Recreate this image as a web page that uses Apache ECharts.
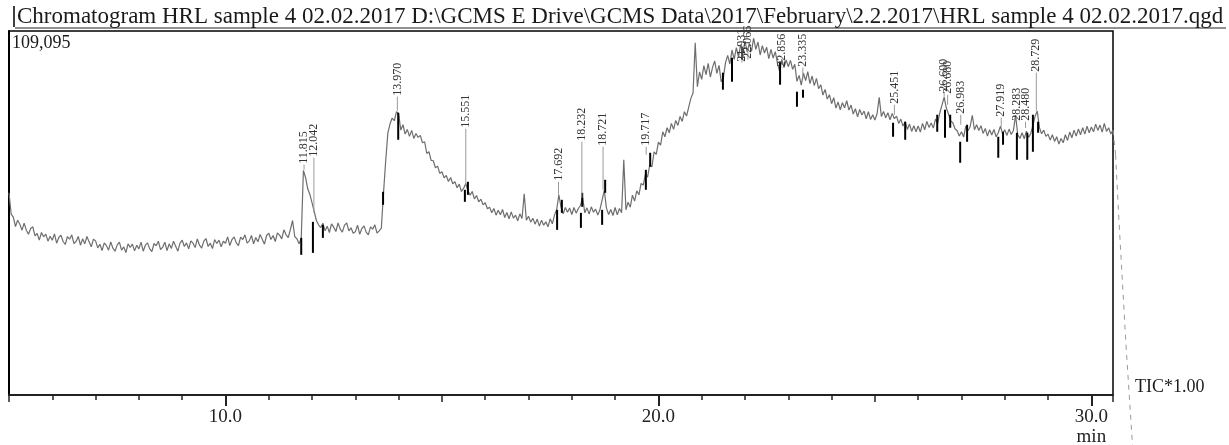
<!DOCTYPE html>
<html>
<head>
<meta charset="utf-8">
<script src="https://cdn.jsdelivr.net/npm/echarts@6/dist/echarts.min.js"></script>
<style>
  html, body { margin: 0; padding: 0; background: #fff; }
  #chart { width: 1229px; height: 445px; }
</style>
</head>
<body>
<div id="chart"></div>
<script>
// TIC trace, intensity in thousands of counts, one sample every 0.05 min from 5.0 min
const traceStart = 5.0;
const traceStep = 0.05;
const ticK = [
  // 5
  60.6, 54.2, 53.3, 50.5, 52.4, 51.2, 49.4, 51.5, 49.4, 48.2, 49.9, 50.4, 47.7, 48.4, 46.4, 48.7, 47.4, 48.2, 46.1, 47.6,
  // 6
  46.4, 48.3, 45.5, 47.2, 47.9, 46.0, 45.1, 47.5, 46.7, 48.0, 45.4, 46.0, 47.5, 44.9, 46.8, 45.3, 47.5, 45.9, 44.4, 46.7,
  // 7
  46.2, 44.1, 45.2, 43.3, 45.6, 44.8, 43.4, 45.9, 44.0, 43.1, 45.0, 45.8, 43.4, 44.4, 42.7, 45.3, 44.2, 45.2, 43.2, 44.9,
  // 8
  43.8, 45.8, 43.1, 44.9, 45.6, 43.8, 43.0, 45.4, 44.7, 46.1, 43.6, 44.3, 45.8, 43.3, 45.3, 43.9, 46.1, 44.6, 43.1, 45.5,
  // 9
  46.4, 44.5, 45.6, 43.8, 46.2, 45.5, 44.2, 46.8, 44.9, 44.0, 46.1, 46.9, 44.5, 45.5, 43.9, 46.6, 45.4, 46.4, 44.4, 46.1,
  // 10
  45.5, 47.4, 44.8, 46.6, 47.4, 45.6, 44.8, 47.3, 46.6, 48.0, 45.5, 46.2, 47.8, 45.3, 47.2, 45.9, 48.1, 46.7, 45.2, 47.8,
  // 11
  48.5, 46.6, 47.8, 46.0, 48.6, 47.9, 46.8, 49.5, 48.0, 47.2, 49.6, 52.3, 47.5, 46.8, 45.3, 47.0, 67.3, 65.2, 61.8, 60.1,
  // 12
  57.6, 55.0, 52.3, 51.0, 50.2, 51.5, 49.2, 50.6, 48.7, 51.3, 50.3, 49.0, 51.6, 49.7, 48.8, 50.9, 51.6, 49.2, 50.1, 48.5,
  // 13
  48.9, 50.9, 48.2, 49.9, 50.7, 48.8, 48.0, 50.4, 49.7, 51.0, 48.5, 49.2, 50.0, 60.5, 70.0, 78.5, 81.2, 83.0, 82.2, 84.9,
  // 14
  84.3, 79.4, 81.0, 78.2, 79.6, 77.5, 79.3, 76.9, 78.4, 77.2, 77.8, 75.6, 75.9, 72.4, 72.9, 70.3, 70.2, 68.1, 68.6, 66.4,
  // 15
  66.9, 65.1, 65.8, 64.0, 65.2, 63.3, 63.9, 62.1, 63.2, 61.0, 61.9, 63.4, 61.2, 59.9, 61.0, 58.8, 59.8, 57.9, 58.7, 57.0,
  // 16
  57.6, 55.8, 56.3, 54.6, 55.9, 53.9, 55.4, 54.0, 55.6, 53.2, 54.7, 52.8, 54.9, 53.0, 53.9, 52.2, 54.3, 52.9, 60.3, 52.4,
  // 17
  53.6, 51.8, 53.0, 51.2, 52.7, 50.6, 52.4, 50.9, 51.9, 50.4, 52.8, 51.3, 53.9, 55.6, 60.0, 56.4, 54.3, 56.2, 54.8, 56.0,
  // 18
  54.1, 56.2, 54.5, 55.9, 56.8, 59.2, 54.6, 56.1, 54.2, 56.4, 54.8, 55.7, 53.9, 55.6, 58.4, 61.3, 56.0, 54.1, 55.6, 53.8,
  // 19
  56.2, 54.0, 55.9, 54.6, 70.5, 55.5, 57.8, 56.3, 59.9, 58.1, 61.2, 60.0, 63.4, 62.9, 66.2, 65.3, 69.0, 68.4, 72.9, 72.1,
  // 20
  75.8, 74.9, 78.9, 77.4, 80.1, 78.6, 81.4, 79.6, 82.3, 80.8, 83.5, 82.0, 84.9, 83.6, 86.3, 88.9, 90.5, 105.6, 92.4, 96.8,
  // 21
  94.6, 98.7, 96.0, 99.4, 95.3, 98.2, 100.1, 96.4, 98.8, 93.9, 95.1, 99.6, 101.8, 99.2, 103.4, 100.6, 104.1, 101.3, 105.0, 102.2,
  // 22
  106.1, 102.8, 105.4, 103.0, 107.0, 103.6, 105.8, 101.9, 104.7, 102.5, 104.2, 100.8, 103.6, 101.0, 102.9, 99.4, 97.0, 100.6, 98.1, 100.4,
  // 23
  98.4, 100.3, 97.6, 99.1, 94.0, 95.8, 92.9, 96.5, 94.2, 96.9, 93.3, 95.6, 92.7, 94.9, 91.8, 93.0, 89.9, 91.6, 88.7, 90.0,
  // 24
  87.3, 89.1, 86.0, 87.8, 85.5, 87.6, 86.1, 88.2, 85.4, 86.9, 84.2, 85.8, 83.4, 85.6, 83.9, 85.1, 82.8, 84.9, 82.6, 84.0,
  // 25
  82.4, 84.3, 89.2, 83.5, 85.0, 83.1, 84.6, 82.5, 84.4, 82.8, 83.6, 81.4, 82.7, 80.6, 81.9, 79.6, 81.2, 79.0, 80.7, 78.9,
  // 26
  80.6, 78.8, 81.4, 79.5, 82.0, 80.2, 81.5, 80.0, 82.7, 81.3, 84.6, 86.9, 89.3, 86.0, 84.2, 82.1, 81.6, 79.8, 79.2, 77.6,
  // 27
  78.9, 77.3, 80.6, 79.2, 80.4, 83.8, 79.5, 81.0, 79.3, 80.7, 78.4, 79.9, 77.6, 79.5, 77.9, 79.6, 77.4, 78.6, 80.6, 78.3,
  // 28
  79.5, 77.8, 79.7, 78.1, 79.3, 83.9, 78.0, 76.9, 78.6, 76.8, 79.1, 77.2, 78.4, 80.8, 83.5, 85.1, 80.2, 78.3, 79.4, 77.5,
  // 29
  78.2, 76.4, 78.0, 76.0, 77.4, 75.2, 76.9, 75.6, 78.0, 76.3, 78.8, 77.1, 79.4, 77.6, 79.7, 78.0, 80.1, 78.2, 80.6, 78.6,
  // 30
  80.3, 78.9, 81.2, 79.3, 80.9, 78.8, 81.4, 79.0, 80.1, 78.2, 79.4
];
// trace continuing past the window edge (dashed)
const tail = [[30.5, 79.4], [30.56, 72], [30.63, 54], [30.8, 15], [30.95, -15]];

// peak table
const peakNames = ['11.815', '12.042', '13.970', '15.551', '17.692', '18.232', '18.721', '19.717',
  '21.931', '22.066', '22.856', '23.335', '25.451', '26.600', '26.680', '26.983',
  '27.919', '28.283', '28.480', '28.729'];
const peakTops = [67.5, 54.6, 85.2, 63.0, 60.0, 59.1, 61.5, 72.0,
  104.4, 104.0, 98.0, 95.0, 84.0, 89.4, 87.0, 81.0,
  80.5, 82.0, 80.0, 85.2];
const labelLevels = [69.0, 71.1, 89.4, 79.8, 63.9, 75.9, 74.4, 74.4,
  99.6, 100.5, 98.1, 98.1, 87.0, 90.6, 90.0, 84.0,
  83.1, 81.9, 81.9, 96.6];

// integration start/end marks: [min, top, bottom]
const marks = [
  [11.75, 47.1, 42.0], [12.02, 51.9, 42.6], [12.25, 51.0, 47.1], [13.64, 60.9, 57.0],
  [13.99, 84.6, 76.5], [15.53, 61.5, 57.9], [15.60, 63.9, 60.0], [17.66, 55.5, 49.5],
  [17.77, 58.5, 54.6], [18.24, 60.6, 56.4], [18.21, 54.6, 50.1], [18.70, 55.5, 51.0],
  [18.77, 64.5, 60.6], [19.71, 67.5, 61.5], [19.81, 72.6, 68.4], [21.49, 96.6, 91.5],
  [21.70, 101.1, 93.9], [21.93, 104.4, 100.5], [22.81, 99.9, 93.0], [23.20, 90.9, 86.4],
  [23.34, 91.5, 89.1], [25.42, 81.6, 77.4], [25.70, 81.9, 76.5], [26.44, 84.0, 78.9],
  [26.62, 85.5, 77.1], [26.74, 84.0, 80.1], [26.97, 75.9, 69.6], [27.13, 81.0, 75.9],
  [27.85, 77.4, 71.1], [27.96, 78.9, 75.0], [28.28, 78.6, 70.5], [28.52, 78.6, 70.5],
  [28.65, 84.0, 72.9], [28.77, 81.9, 78.6]
];

const xMajor = [10, 20, 30];
const yMax = 109.095;

// build the trace as [min, value] pairs
const trace = ticK.map((v, i) => [+(traceStart + i * traceStep).toFixed(2), v]);

const serif = '"Liberation Serif", "Times New Roman", serif';

const chart = echarts.init(document.getElementById('chart'));
const baseX = { type: 'value', min: 5, max: 30.5, gridIndex: 0, position: 'bottom', splitLine: { show: false } };

const option = {
  animation: false,
  grid: {
    left: 9, right: 116, top: 31, bottom: 50, outerBoundsMode: 'none', containLabel: false,
    show: true, borderColor: '#000', borderWidth: 1.5, backgroundColor: '#fff'
  },
  xAxis: [
    Object.assign({}, baseX, {
      interval: 1,
      axisLine: { show: true, lineStyle: { color: '#222', width: 2 } },
      axisTick: { show: true, length: 5, lineStyle: { color: '#222', width: 1.5 } },
      axisLabel: { show: false }
    }),
    Object.assign({}, baseX, {
      interval: 5,
      axisLine: { show: false },
      axisTick: { show: true, length: 7, lineStyle: { color: '#222', width: 1.5 } },
      axisLabel: { show: false }
    }),
    Object.assign({}, baseX, {
      axisLine: { show: false },
      axisTick: { show: true, length: 11, customValues: xMajor, lineStyle: { color: '#222', width: 2 } },
      axisLabel: {
        show: true, customValues: xMajor, margin: 12,
        fontFamily: serif, fontSize: 19, color: '#222', lineHeight: 20,
        formatter: v => v === 30 ? '30.0\nmin' : v.toFixed(1)
      }
    })
  ],
  yAxis: {
    type: 'value', min: 0, max: yMax,
    axisLine: { show: true, onZero: false, lineStyle: { color: '#000', width: 2 } },
    axisTick: { show: false }, axisLabel: { show: false }, splitLine: { show: false }
  },
  graphic: [
    { type: 'line', shape: { x1: 14, y1: 6, x2: 14, y2: 27 }, style: { stroke: '#000', lineWidth: 1.5 } },
    {
      type: 'text', left: 17, top: 5,
      style: { text: 'Chromatogram HRL sample 4 02.02.2017 D:\\GCMS E Drive\\GCMS Data\\2017\\February\\2.2.2017\\HRL sample 4 02.02.2017.qgd',
        font: '23px ' + serif, fill: '#1a1a1a' }
    },
    { type: 'line', shape: { x1: 15, y1: 28, x2: 1226, y2: 28 }, style: { stroke: '#222', lineWidth: 1 } },
    { type: 'text', left: 12, top: 34, style: { text: '109,095', font: '18px ' + serif, fill: '#1a1a1a' } },
    { type: 'text', left: 1135, top: 378, style: { text: 'TIC*1.00', font: '18px ' + serif, fill: '#1a1a1a' } }
  ],
  series: [
    {
      name: 'TIC', type: 'line', data: trace, showSymbol: false, symbol: 'none',
      lineStyle: { color: '#6e6e6e', width: 1.2 }, z: 3
    },
    {
      name: 'TIC tail', type: 'custom', data: tail, clip: false, z: 3,
      encode: { x: 0, y: 1 },
      renderItem: function (params, api) {
        const i = params.dataIndex;
        if (i >= tail.length - 1) return null;
        const a = api.coord(tail[i]);
        const b = api.coord(tail[i + 1]);
        return {
          type: 'line',
          shape: { x1: a[0], y1: a[1], x2: b[0], y2: b[1] },
          style: { stroke: '#9a9a9a', lineWidth: 1, lineDash: [5, 5] }
        };
      }
    },
    {
      name: 'marks', type: 'custom', data: marks, clip: false, z: 4,
      encode: { x: 0, y: [1, 2] },
      renderItem: function (params, api) {
        const p1 = api.coord([api.value(0), api.value(1)]);
        const p2 = api.coord([api.value(0), api.value(2)]);
        return {
          type: 'line',
          shape: { x1: p1[0], y1: p1[1], x2: p2[0], y2: p2[1] },
          style: { stroke: '#000', lineWidth: 2 }
        };
      }
    },
    {
      name: 'peaks', type: 'custom', clip: false, z: 5,
      data: peakNames.map((n, i) => [parseFloat(n), peakTops[i], labelLevels[i], i]),
      encode: { x: 0, y: [1, 2] },
      renderItem: function (params, api) {
        const i = api.value(3);
        const top = api.coord([api.value(0), api.value(1)]);
        const lab = api.coord([api.value(0), api.value(2)]);
        return {
          type: 'group',
          children: [
            {
              type: 'line',
              shape: { x1: top[0], y1: top[1], x2: lab[0], y2: lab[1] },
              style: { stroke: '#9a9a9a', lineWidth: 1 }
            },
            {
              type: 'text', x: lab[0], y: lab[1] - 1, rotation: Math.PI / 2,
              style: { text: peakNames[i], font: '12px ' + serif, fill: '#333',
                align: 'left', verticalAlign: 'middle' }
            }
          ]
        };
      }
    }
  ]
};

chart.setOption(option);
window.addEventListener('resize', function () {
  chart.resize();
});
</script>
</body>
</html>
